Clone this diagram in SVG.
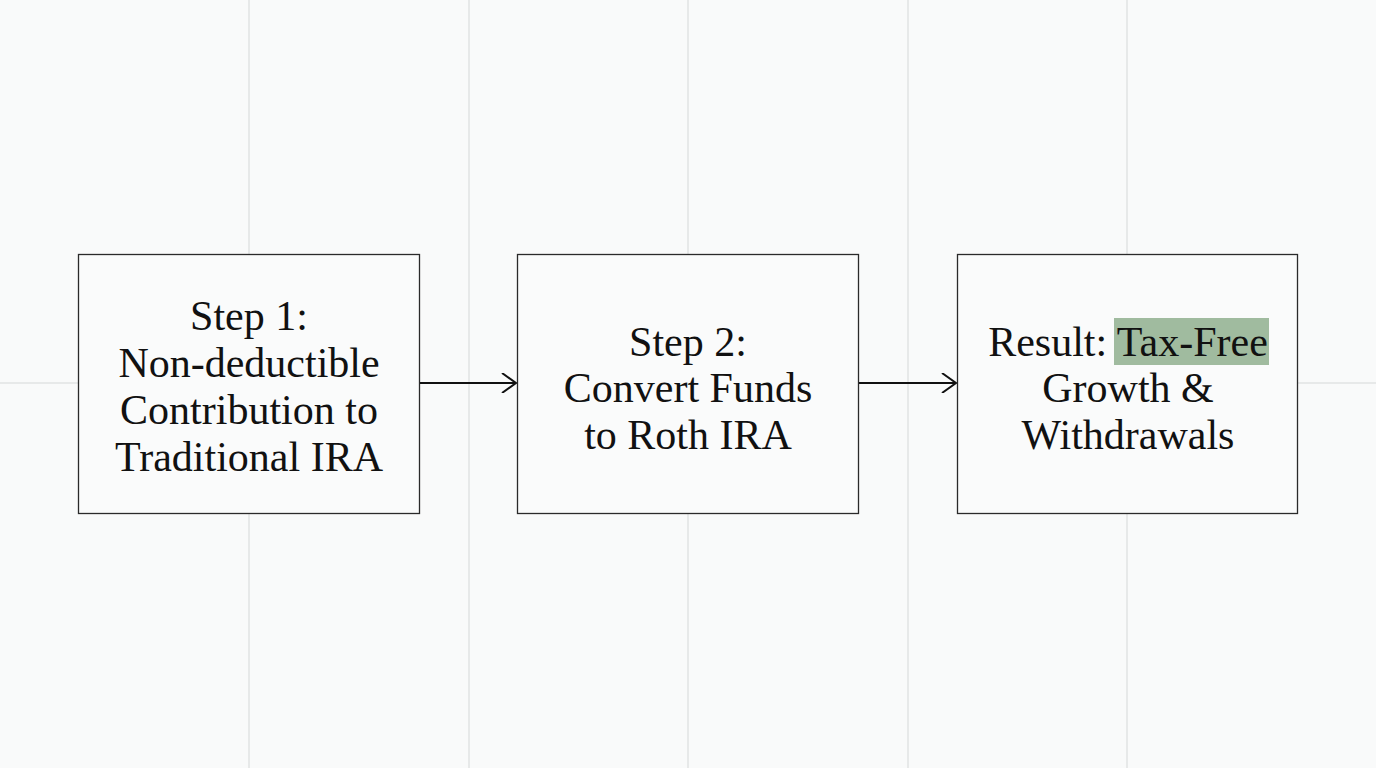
<svg xmlns="http://www.w3.org/2000/svg" width="1376" height="768" viewBox="0 0 1376 768">
<defs>
<style>
.grid{stroke:#e1e3e3;stroke-width:1.5}
.box{fill:#fafbfb;stroke:#2a2a2a;stroke-width:1.3}
.lbl{font-family:"Liberation Serif","DejaVu Serif",serif;font-size:42px;fill:#111;text-anchor:middle}
.conn{stroke:#111;stroke-width:2;fill:none}
</style>
<marker id="arr" markerWidth="20" markerHeight="20" refX="17" refY="10" orient="auto" markerUnits="userSpaceOnUse">
<path d="M3,0 L17,10 L3,20" fill="none" stroke="#111" stroke-width="2"/>
</marker>
</defs>
<rect width="1376" height="768" fill="#f9fafa"/>
<g id="grid">
<line class="grid" x1="249" y1="0" x2="249" y2="768"/>
<line class="grid" x1="469" y1="0" x2="469" y2="768"/>
<line class="grid" x1="688" y1="0" x2="688" y2="768"/>
<line class="grid" x1="908" y1="0" x2="908" y2="768"/>
<line class="grid" x1="1127" y1="0" x2="1127" y2="768"/>
<line class="grid" x1="0" y1="383" x2="1376" y2="383"/>
</g>
<g id="connectors">
<line class="conn" x1="420" y1="383" x2="516" y2="383" marker-end="url(#arr)"/>
<line class="conn" x1="859" y1="383" x2="956" y2="383" marker-end="url(#arr)"/>
</g>
<g id="step1">
<rect class="box" x="78.5" y="254.5" width="341" height="259"/>
<text class="lbl"><tspan x="249" y="330">Step 1:</tspan><tspan x="249" y="377">Non-deductible</tspan><tspan x="249" y="424">Contribution to</tspan><tspan x="249" y="471">Traditional IRA</tspan></text>
</g>
<g id="step2">
<rect class="box" x="517.5" y="254.5" width="341" height="259"/>
<text class="lbl"><tspan x="688" y="356">Step 2:</tspan><tspan x="688" y="402">Convert Funds</tspan><tspan x="688" y="449">to Roth IRA</tspan></text>
</g>
<g id="result">
<rect class="box" x="957.5" y="254.5" width="340" height="259"/>
<rect x="1114" y="318" width="155" height="47" fill="#a0bb9f"/>
<text class="lbl"><tspan x="1128" y="356">Result: Tax-Free</tspan><tspan x="1128" y="402">Growth &amp;</tspan><tspan x="1128" y="449">Withdrawals</tspan></text>
</g>
</svg>
